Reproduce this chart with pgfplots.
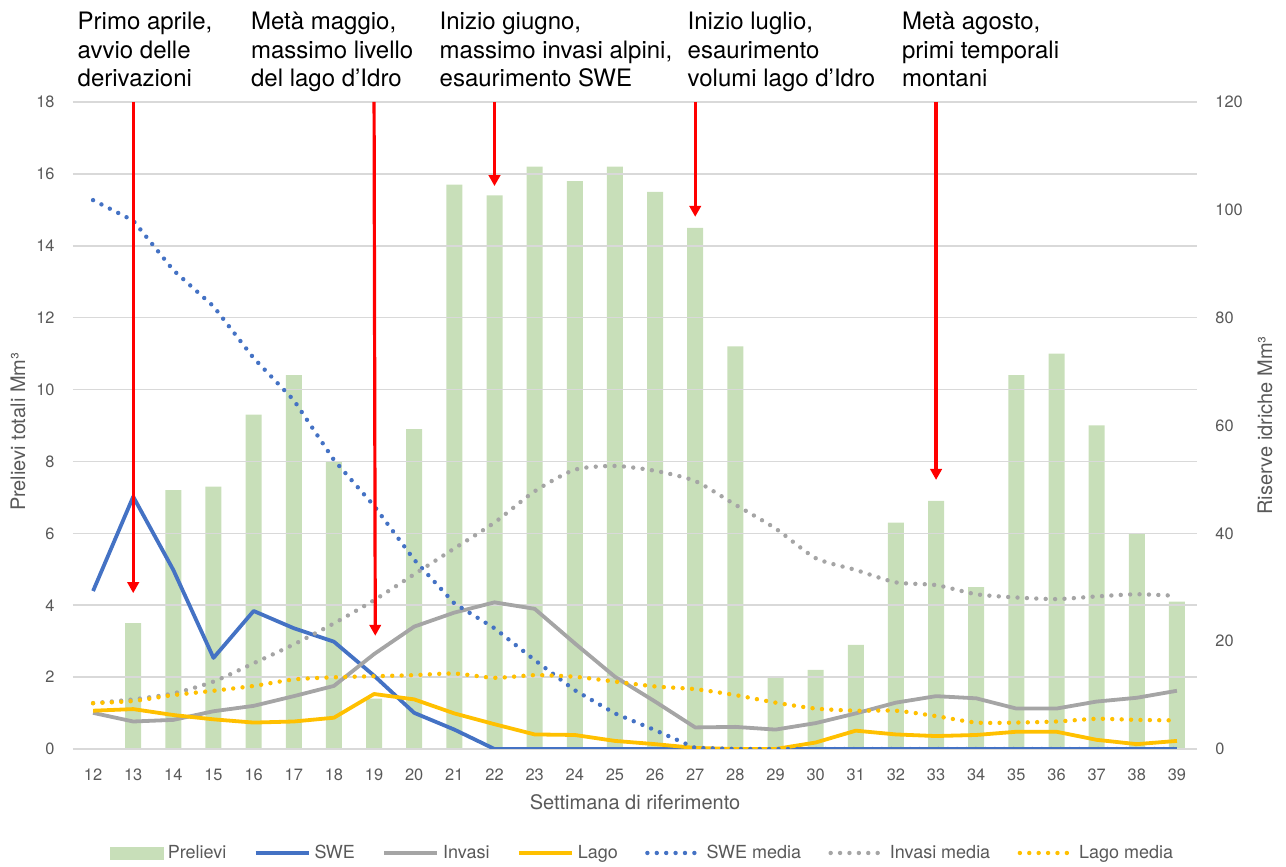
\documentclass[border=0pt]{standalone}
\usepackage{fontspec}
\setmainfont{TeX Gyre Heros}
\usepackage{pgfplots}
\pgfplotsset{compat=1.18}
\usepackage{pgfplotstable}
\usetikzlibrary{arrows.meta}

\definecolor{barGreen}{HTML}{C8DFB9}
\definecolor{sweBlue}{HTML}{4472C4}
\definecolor{invGray}{HTML}{A5A5A5}
\definecolor{lagoYellow}{HTML}{FFC000}
\definecolor{txtGray}{HTML}{595959}
\definecolor{gridGray}{HTML}{D9D9D9}

\pgfplotstableread{
week prelievi
13 3.5
14 7.2
15 7.3
16 9.3
17 10.4
18 8.0
19 1.4
20 8.9
21 15.7
22 15.4
23 16.2
24 15.8
25 16.2
26 15.5
27 14.5
28 11.2
29 2.0
30 2.2
31 2.9
32 6.3
33 6.9
34 4.5
35 10.4
36 11.0
37 9.0
38 6.0
39 4.1
}\prelievi

\pgfplotstableread{
week swe invasi lago swem invasim lagom
12 29.3 6.7 7.1 101.8 8.5 8.5
13 46.8 5.1 7.4 98.0 9.2 8.9
14 33.2 5.4 6.3 88.8 10.3 10.0
15 16.9 7.0 5.5 82.1 12.5 10.8
16 25.6 8.0 4.9 72.5 15.9 11.7
17 22.4 9.8 5.1 64.7 19.4 12.9
18 19.9 11.7 5.8 53.6 23.3 13.3
19 13.6 17.6 10.2 45.1 27.6 13.5
20 6.7 22.7 9.2 35.1 32.4 13.7
21 3.6 25.3 6.6 27.0 37.2 14.0
22 0 27.2 4.6 22.4 42.0 13.2
23 0 26.0 2.7 16.5 47.8 13.7
24 0 19.6 2.6 10.9 51.8 13.4
25 0 13.4 1.5 6.6 52.5 12.5
26 0 8.8 0.9 3.5 51.6 11.6
27 0 4.0 0.2 0.2 49.7 11.1
28 0 4.1 0 0 45.3 10.0
29 0 3.6 0 0 40.9 8.6
30 0 4.8 1.2 0 35.4 7.5
31 0 6.6 3.4 0 33.2 7.1
32 0 8.6 2.7 0 30.9 7.1
33 0 9.8 2.4 0 30.4 6.1
34 0 9.4 2.6 0 28.7 4.9
35 0 7.5 3.2 0 28.1 4.9
36 0 7.5 3.2 0 27.8 5.1
37 0 8.8 1.7 0 28.3 5.6
38 0 9.5 0.9 0 28.7 5.4
39 0 10.8 1.5 0 28.4 5.3
}\riserve

\pgfplotsset{
  /pgf/number format/assume math mode=true,
  myaxis/.style={
    at={(36.5pt,59pt)}, anchor=south west,
    scale only axis, width=562pt, height=323.5pt,
    xmin=11.5, xmax=39.5,
    axis line style={draw=none},
    major tick length=0pt,
    tick label style={font=\fontsize{8.2}{9}\selectfont, text=txtGray},
    label style={font=\fontsize{10}{12}\selectfont, text=txtGray},
  },
  dotline/.style={line width=2.2pt, line cap=round, dash pattern=on 0pt off 4.7pt},
  solidline/.style={line width=1.9pt, line join=round},
}

\begin{document}
\begin{tikzpicture}
\useasboundingbox (0,0) rectangle (643pt,433.5pt);

\begin{axis}[
  myaxis,
  ymin=0, ymax=18,
  xtick={12,...,39}, ytick={0,2,...,18},
  ymajorgrids, grid style={draw=gridGray, line width=0.75pt},
  axis on top,
  xticklabel style={inner sep=0pt, anchor=north, yshift=-9.5pt},
  yticklabel style={inner sep=0pt, anchor=east, xshift=-9pt},
  xlabel={Settimana di riferimento},
  ylabel={Prelievi totali Mm³},
  xlabel style={at={(axis description cs:0.5,-0.0819)}, anchor=center},
  ylabel style={at={(axis description cs:-0.0489,0.49)}, anchor=center},
]
\addplot[ybar, bar width=8pt, fill=barGreen, draw=none] table[x=week,y=prelievi]{\prelievi};
\end{axis}

\begin{axis}[
  myaxis,
  ymin=0, ymax=120,
  xtick=\empty, ytick={0,20,...,120},
  yticklabel pos=right,
  yticklabel style={inner sep=0pt, anchor=west, xshift=9pt},
  ylabel={Riserve idriche Mm³},
  ylabel style={at={(axis description cs:1.0605,0.5)}, anchor=center, rotate=0},
  legend style={at={(0.5076,-0.1607)}, anchor=center, draw=none, fill=none,
    legend columns=-1, font=\fontsize{9}{11}\selectfont, text=txtGray,
    /tikz/every even column/.append style={column sep=11.7pt}},
  legend cell align=left,
  legend image code/.code={\draw[#1] (0pt,0pt) -- (26.5pt,0pt);},
]
\addlegendimage{legend image code/.code={\fill[barGreen] (0pt,-3pt) rectangle (26.5pt,3pt);}}
\addlegendentry{Prelievi}
\addplot[solidline, sweBlue] table[x=week,y=swe]{\riserve};
\addlegendentry{SWE}
\addplot[solidline, invGray] table[x=week,y=invasi]{\riserve};
\addlegendentry{Invasi}
\addplot[solidline, lagoYellow] table[x=week,y=lago]{\riserve};
\addlegendentry{Lago}
\addplot[dotline, sweBlue] table[x=week,y=swem]{\riserve};
\addlegendentry{SWE media}
\addplot[dotline, invGray, smooth, tension=0.4] table[x=week,y=invasim]{\riserve};
\addlegendentry{Invasi media}
\addplot[dotline, lagoYellow, smooth, tension=0.4] table[x=week,y=lagom]{\riserve};
\addlegendentry{Lago media}

\begin{scope}[red, line width=1.6pt, -{Triangle[width=5.7pt,length=5.5pt]}]
\draw (axis cs:13,120) -- (axis cs:13,28.9);
\draw (axis cs:19,120) -- (axis cs:19.03,21.0);
\draw (axis cs:22,120) -- (axis cs:22,104.4);
\draw (axis cs:27,120) -- (axis cs:27,98.7);
\draw (axis cs:33,120) -- (axis cs:33,49.9);
\end{scope}
\end{axis}

\begin{scope}[every node/.style={anchor=north west, inner sep=0pt, align=left,
    font=\fontsize{12}{14.15}\selectfont}]
\node at (38.65pt,427.5pt) {Primo aprile,\\avvio delle\\derivazioni};
\node at (125.35pt,427.5pt) {Metà maggio,\\massimo livello\\del lago d’Idro};
\node at (219.65pt,427.5pt) {Inizio giugno,\\massimo invasi alpini,\\esaurimento SWE};
\node at (343.65pt,427.5pt) {Inizio luglio,\\esaurimento\\volumi lago d’Idro};
\node at (450.85pt,427.5pt) {Metà agosto,\\primi temporali\\montani};
\end{scope}
\end{tikzpicture}
\end{document}
